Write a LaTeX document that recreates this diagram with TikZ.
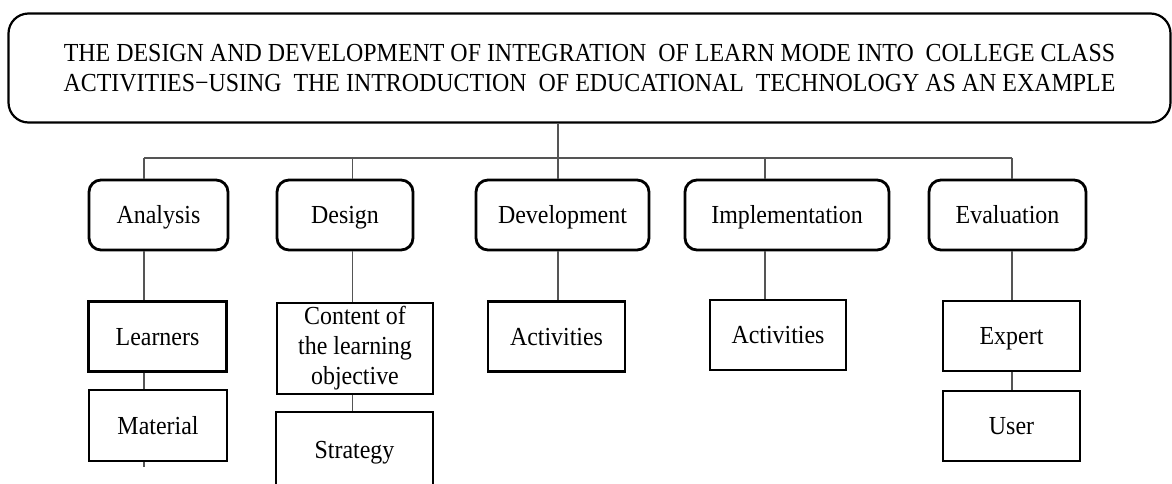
\documentclass[tikz,border=0pt]{standalone}
\usepackage{fontspec}
\setmainfont{Liberation Serif}[FakeStretch=0.92]
\usepackage{xcolor}
\usepackage{tikz}
\definecolor{linkgray}{RGB}{85, 85, 85}

\begin{document}
\begin{tikzpicture}[x=1pt, y=-1pt,
    topbox/.style={rectangle, rounded corners=20pt, draw=black,
                   line width=2.2pt, minimum width=1162pt,
                   minimum height=109pt, align=center, inner sep=0pt,
                   font=\fontsize{26}{30}\selectfont},
    stage/.style={rectangle, rounded corners=12pt, draw=black,
                  line width=2.8pt, minimum height=70pt, inner sep=0pt,
                  text height=17pt, text depth=0pt,
                  font=\fontsize{26}{30}\selectfont},
    item/.style={rectangle, draw=black, line width=2.2pt,
                 minimum height=70pt, align=center, inner sep=0pt,
                 font=\fontsize{26}{30}\selectfont},
    oneline/.style={text height=17pt, text depth=0pt},
    link/.style={draw=linkgray, line width=1.3pt}]

    \useasboundingbox (0,0) rectangle (1172,483);

    % Titlul
    \node[topbox] (title) at (589.5,68) {THE DESIGN AND DEVELOPMENT OF INTEGRATION\ \ OF LEARN MODE INTO\ \ COLLEGE CLASS\\
        ACTIVITIES−USING\ \ THE INTRODUCTION\ \ OF EDUCATIONAL\ \ TECHNOLOGY AS AN EXAMPLE};

    % Etape
    \node[stage, minimum width=139pt] (ana) at (158.5,215) {Analysis};
    \node[stage, minimum width=136pt] (des) at (345,215)   {Design};
    \node[stage, minimum width=173pt] (dev) at (562.5,215) {Development};
    \node[stage, minimum width=204pt] (imp) at (787,215)   {Implementation};
    \node[stage, minimum width=157pt] (eva) at (1007.5,215) {Evaluation};

    % Componente
    \node[item, oneline, minimum width=138pt] (lrn) at (157.5,336.5) {Learners};
    \node[item, oneline, minimum width=138pt, minimum height=71pt] (mat) at (158,425.5) {Material};
    \node[item, minimum width=156pt, minimum height=91pt] (cnt) at (355,348.5)
        {Content of\\the learning\\objective};
    \node[item, oneline, minimum width=157pt, minimum height=76pt] (stg) at (354.5,450) {Strategy};
    \node[item, oneline, minimum width=137pt] (dva) at (556.5,336.5) {Activities};
    \node[item, oneline, minimum width=136pt] (ima) at (778,335)     {Activities};
    \node[item, oneline, minimum width=137pt] (exp) at (1011.5,336)  {Expert};
    \node[item, oneline, minimum width=137pt] (usr) at (1011.5,426)  {User};

    % Ramificatii
    \coordinate (b1) at (144,158);
    \coordinate (b2) at (352.5,158);
    \coordinate (b3) at (558,158);
    \coordinate (b4) at (765,158);
    \coordinate (b5) at (1012,158);
    \coordinate (tail) at (144,467);

    % Legaturi principale
    \draw[link] (title.south -| b3) -- (b3);
    \draw[link] (b1) -- (b5);
    \foreach \b/\s in {b1/ana, b2/des, b3/dev, b4/imp, b5/eva}
        \draw[link] (\b) -- (\s.north -| \b);

    % Legaturi secundare
    \draw[link] (ana.south -| b1) -- (lrn.north -| b1);
    \draw[link] (lrn.south -| b1) -- (mat.north -| b1);
    \draw[link] (mat.south -| b1) -- (tail);
    \draw[link] (des.south -| b2) -- (cnt.north -| b2);
    \draw[link] (cnt.south -| b2) -- (stg.north -| b2);
    \draw[link] (dev.south -| b3) -- (dva.north -| b3);
    \draw[link] (imp.south -| b4) -- (ima.north -| b4);
    \draw[link] (eva.south -| b5) -- (exp.north -| b5);
    \draw[link] (exp.south -| b5) -- (usr.north -| b5);

\end{tikzpicture}
\end{document}
